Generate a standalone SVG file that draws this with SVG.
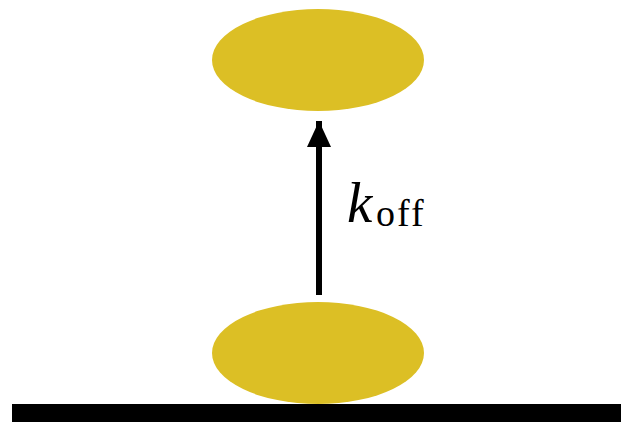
<svg xmlns="http://www.w3.org/2000/svg" width="621" height="425" viewBox="0 0 621 425">
<style>
.blob{fill:#DCBF25}
.lbl{font-family:"Liberation Serif","DejaVu Serif",serif;fill:#000}
</style>
<defs>
<marker id="ah" viewBox="0 0 26 24" refX="26" refY="12" markerWidth="26" markerHeight="24" markerUnits="userSpaceOnUse" orient="auto">
<path d="M0,0 L26,12 L0,24 Z" fill="#000"/>
</marker>
</defs>
<rect width="621" height="425" fill="#fff"/>
<g id="surface"><rect x="12" y="404" width="609" height="18" fill="#000"/></g>
<g id="top"><ellipse class="blob" cx="318" cy="60" rx="106" ry="51"/></g>
<g id="bottom"><ellipse class="blob" cx="318" cy="353" rx="106" ry="51"/></g>
<g id="connectors">
<line x1="319" y1="295" x2="319" y2="121" stroke="#000" stroke-width="6" marker-end="url(#ah)"/>
</g>
<g id="label">
<text class="lbl" x="347" y="222" font-size="57" font-style="italic">k</text>
<text class="lbl" x="376" y="226" font-size="38" letter-spacing="2">off</text>
</g>
</svg>
